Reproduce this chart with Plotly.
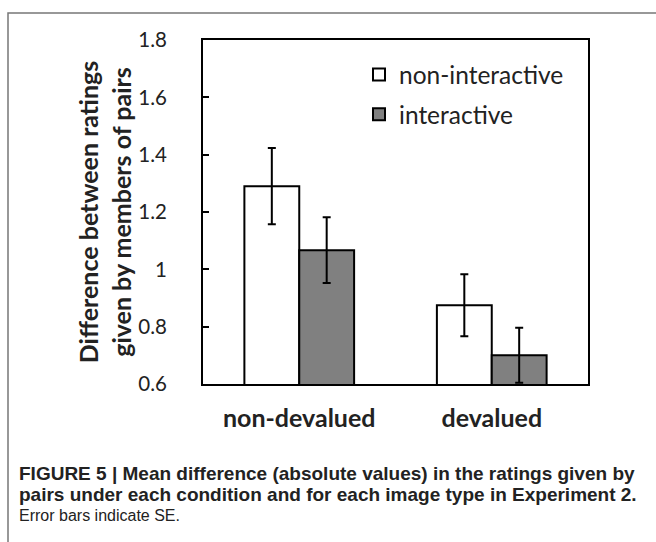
import plotly.graph_objects as go

categories = ["non-devalued", "devalued"]
non_interactive = [1.29, 0.875]
non_interactive_se = [0.133, 0.108]
interactive = [1.067, 0.70]
interactive_se = [0.115, 0.096]
tick_vals = [0.6, 0.8, 1.0, 1.2, 1.4, 1.6, 1.8]
tick_text = ["0.6", "0.8", "1", "1.2", "1.4", "1.6", "1.8"]
caption_lines = [
    "FIGURE 5 | Mean difference (absolute values) in the ratings given by",
    "pairs under each condition and for each image type in Experiment 2.",
    "Error bars indicate SE.",
]

W, H = 656, 542
L, R, T, B = 203, 68, 40, 158
pw, ph = W - L - R, H - T - B

def px_x(p):
    return (p - L) / pw

def px_y(p):
    return (H - B - p) / ph

fig = go.Figure()
fig.add_trace(go.Bar(
    x=categories, y=non_interactive, name="non-interactive",
    marker=dict(color="white", line=dict(color="black", width=2)),
    error_y=dict(type="data", array=non_interactive_se, color="black", thickness=2, width=4),
    legendgroup="a",
))
fig.add_trace(go.Bar(
    x=categories, y=interactive, name="interactive",
    marker=dict(color="#808080", line=dict(color="black", width=2)),
    error_y=dict(type="data", array=interactive_se, color="black", thickness=2, width=4),
    legendgroup="b",
))

cap_font = "Liberation Sans, Arial, sans-serif"
annotations = []
for i, (line, bold, size) in enumerate(zip(caption_lines, [True, True, False], [19, 19, 16])):
    annotations.append(dict(
        xref="paper", yref="paper", x=px_x(17), y=px_y(473 + 21 * i),
        xanchor="left", yanchor="middle", align="left", showarrow=False,
        text=f"<b>{line}</b>" if bold else line,
        font=dict(size=size, family=cap_font, color="#222"),
    ))

fig.update_layout(
    width=W, height=H,
    margin=dict(l=L, r=R, t=T, b=B, autoexpand=False),
    paper_bgcolor="white", plot_bgcolor="white",
    barmode="group", bargap=0.43, bargroupgap=0,
    font=dict(family="Lato, Open Sans, sans-serif", color="#222"),
    showlegend=True,
    legend=dict(
        x=px_x(359), y=px_y(52), xanchor="left", yanchor="top",
        font=dict(size=24.5, family="Lato, sans-serif", color="#222"),
        bgcolor="rgba(0,0,0,0)", tracegroupgap=5, itemwidth=30,
    ),
    xaxis=dict(
        showline=True, linecolor="black", linewidth=2, mirror=True,
        ticks="", showgrid=False, automargin=False,
        tickfont=dict(size=25, family="Lato, sans-serif", color="#222", weight="bold"),
        ticklabelstandoff=11,
    ),
    yaxis=dict(
        range=[0.6, 1.8], tickvals=tick_vals, ticktext=tick_text,
        showline=True, linecolor="black", linewidth=2, mirror=True,
        ticks="inside", ticklen=6, tickwidth=2, tickcolor="black",
        showgrid=False, zeroline=False, automargin=False,
        tickfont=dict(size=20.5, family="Lato, sans-serif", color="#222"),
        ticklabelstandoff=30,
        title=dict(
            text="Difference between ratings<br>given by members of pairs",
            font=dict(size=25, family="Lato, sans-serif", color="#222", weight="bold"),
            standoff=0,
        ),
    ),
    shapes=[dict(
        type="rect", xref="paper", yref="paper",
        x0=px_x(8), x1=px_x(700), y0=px_y(600), y1=px_y(13),
        line=dict(color="#777777", width=1.5), layer="below",
    )],
    annotations=annotations,
)

fig.write_html("out.html", config={"displayModeBar": False},
               post_script="document.body.style.margin='0';")
